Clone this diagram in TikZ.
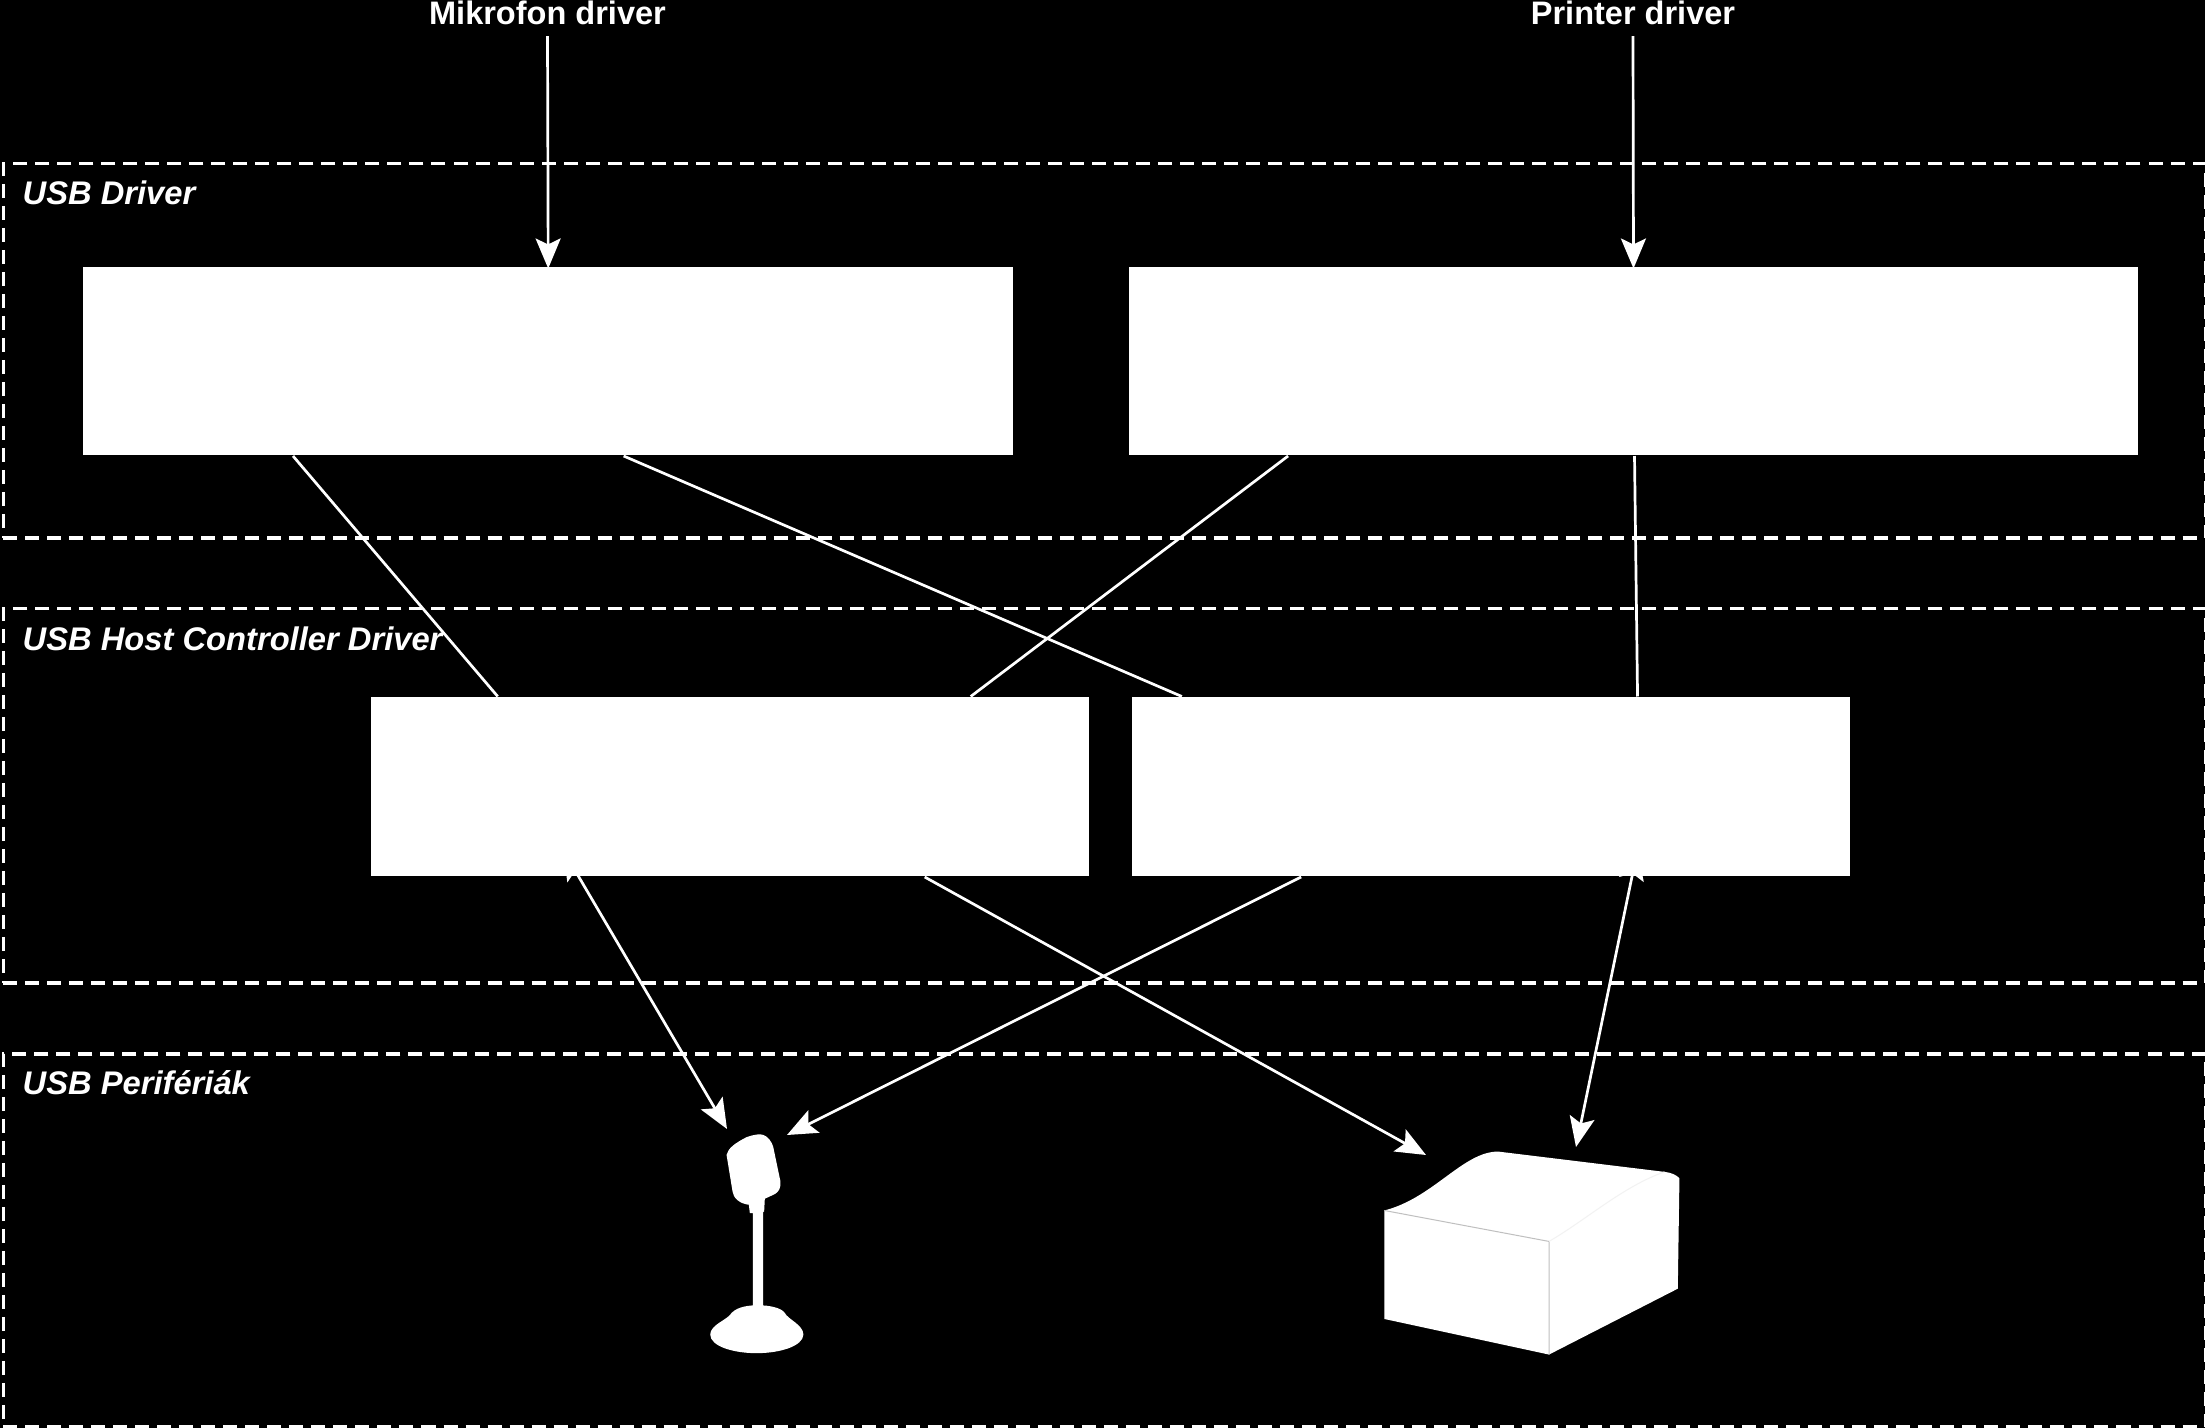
\documentclass[tikz,border=0pt]{standalone}
\usepackage{fontspec}
\setmainfont{Liberation Sans}
\usetikzlibrary{arrows.meta,calc}
\tikzset{
  x=0.01cm,y=-0.01cm,
  >={Stealth[length=0.30cm,width=0.25cm,inset=0.06cm]},
  whitebox/.style={fill=white,draw=none,inner sep=0pt,anchor=north west},
  layerbox/.style={draw=white,line width=0.035cm,dash pattern=on 0.14cm off 0.08cm,inner sep=0pt,anchor=north west,minimum width=22.01cm},
  layerlabel/.style={text=white,font=\fontsize{9.3}{11}\selectfont\bfseries\itshape,inner sep=0pt,anchor=base west},
  driverlabel/.style={text=white,font=\fontsize{9.25}{11}\selectfont\bfseries,inner sep=0.1cm,anchor=base},
  wire/.style={draw=white,line width=0.027cm},
  shapefill/.style={fill=white,draw=none},
  crease/.style={draw=black!25,line width=0.01cm},
}
\begin{document}
\begin{tikzpicture}
\useasboundingbox (0,0) rectangle (2205,1428);
\fill[black] (0,0) rectangle (2205,1428);
% layers
\node[layerbox,minimum height=3.74cm] (L1) at (1.5,162) {};
\node[layerbox,minimum height=3.74cm] (L2) at (1.5,607) {};
\node[layerbox,minimum height=3.73cm] (L3) at (1.5,1052) {};
\node[layerlabel] (L1t) at (22,205) {USB Driver};
\node[layerlabel] (L2t) at (22,651) {USB Host Controller Driver};
\node[layerlabel] (L3t) at (22,1095) {USB Perifériák};
% boxes
\node[whitebox,minimum width=9.295cm,minimum height=1.88cm] (A) at (82.5,266.5) {};
\node[whitebox,minimum width=10.08cm,minimum height=1.88cm] (B) at (1128.5,266.5) {};
\node[whitebox,minimum width=7.17cm,minimum height=1.79cm] (C) at (370.5,696.5) {};
\node[whitebox,minimum width=7.17cm,minimum height=1.79cm] (D) at (1131.5,696.5) {};
% top labels
\node[driverlabel] (mk) at (547.5,25) {Mikrofon driver};
\node[driverlabel] (pd) at (1633,25) {Printer driver};
\draw[wire,->] (mk.south) -- ($(A.north)+(0,2)$);
\draw[wire,->] (pd.south) -- ($(B.north)+(0,2)$);
% microphone
\begin{scope}[shift={(650,1050)},x=0.003333cm,y=-0.003333cm]
\fill[shapefill] (230,315) .. controls (235,295) and (255,280) .. (290,262)
  .. controls (315,253) and (330,252) .. (340,255)
  .. controls (355,260) and (365,275) .. (370,290) -- (392,395)
  .. controls (393,415) and (388,425) .. (375,433) -- (345,447) -- (343,485)
  -- (340,487) -- (340,770) -- (309,770) -- (309,490) -- (300,490) -- (297,465)
  .. controls (270,462) and (250,445) .. (248,425) -- cycle;
\fill[shapefill] (245,790) .. controls (265,770) and (300,767) .. (325,767)
  .. controls (360,767) and (395,775) .. (405,790)
  .. controls (415,810) and (460,825) .. (461,855)
  .. controls (460,890) and (390,911) .. (320,911)
  .. controls (250,911) and (181,890) .. (181,855)
  .. controls (181,825) and (235,810) .. (245,790) -- cycle;
\end{scope}
% printer
\begin{scope}[shift={(1340,1090)},x=0.003333cm,y=-0.003333cm]
\fill[shapefill] (133,362) .. controls (280,325) and (370,185) .. (475,185)
  -- (975,246) .. controls (995,248) and (1010,255) .. (1020,265)
  -- (1015,597) -- (628,795) -- (133,688) -- cycle;
\draw[crease] (133,362) -- (628,455) -- (628,795);
\draw[draw=black!5,line width=0.01cm] (628,455) .. controls (740,390) and (850,290) .. (975,246);
\end{scope}
\coordinate (micL) at (727,1129);
\coordinate (micR) at (787,1135);
\coordinate (prnL) at (1426,1155);
\coordinate (prnR) at (1576,1147);
\coordinate (cTail) at (563,850);
\coordinate (dTail) at (1637.5,850);
% connectors between layers
\draw[wire] ($(A.south west)!.226!(A.south east)$) -- ($(C.north west)!.177!(C.north east)$);
\draw[wire] ($(A.south west)!.581!(A.south east)$) -- ($(D.north west)!.070!(D.north east)$);
\draw[wire] ($(B.south west)!.158!(B.south east)$) -- ($(C.north west)!.835!(C.north east)$);
\draw[wire] ($(B.south west)!.501!(B.south east)$) -- ($(D.north west)!.704!(D.north east)$);
% connectors to peripherals
\draw[wire,<->] (cTail) -- (micL);
\draw[wire,->] ($(D.south west)!.236!(D.south east)$) -- (micR);
\draw[wire,->] ($(C.south west)!.771!(C.south east)$) -- (prnL);
\draw[wire,<->] (dTail) -- (prnR);
\end{tikzpicture}
\end{document}
